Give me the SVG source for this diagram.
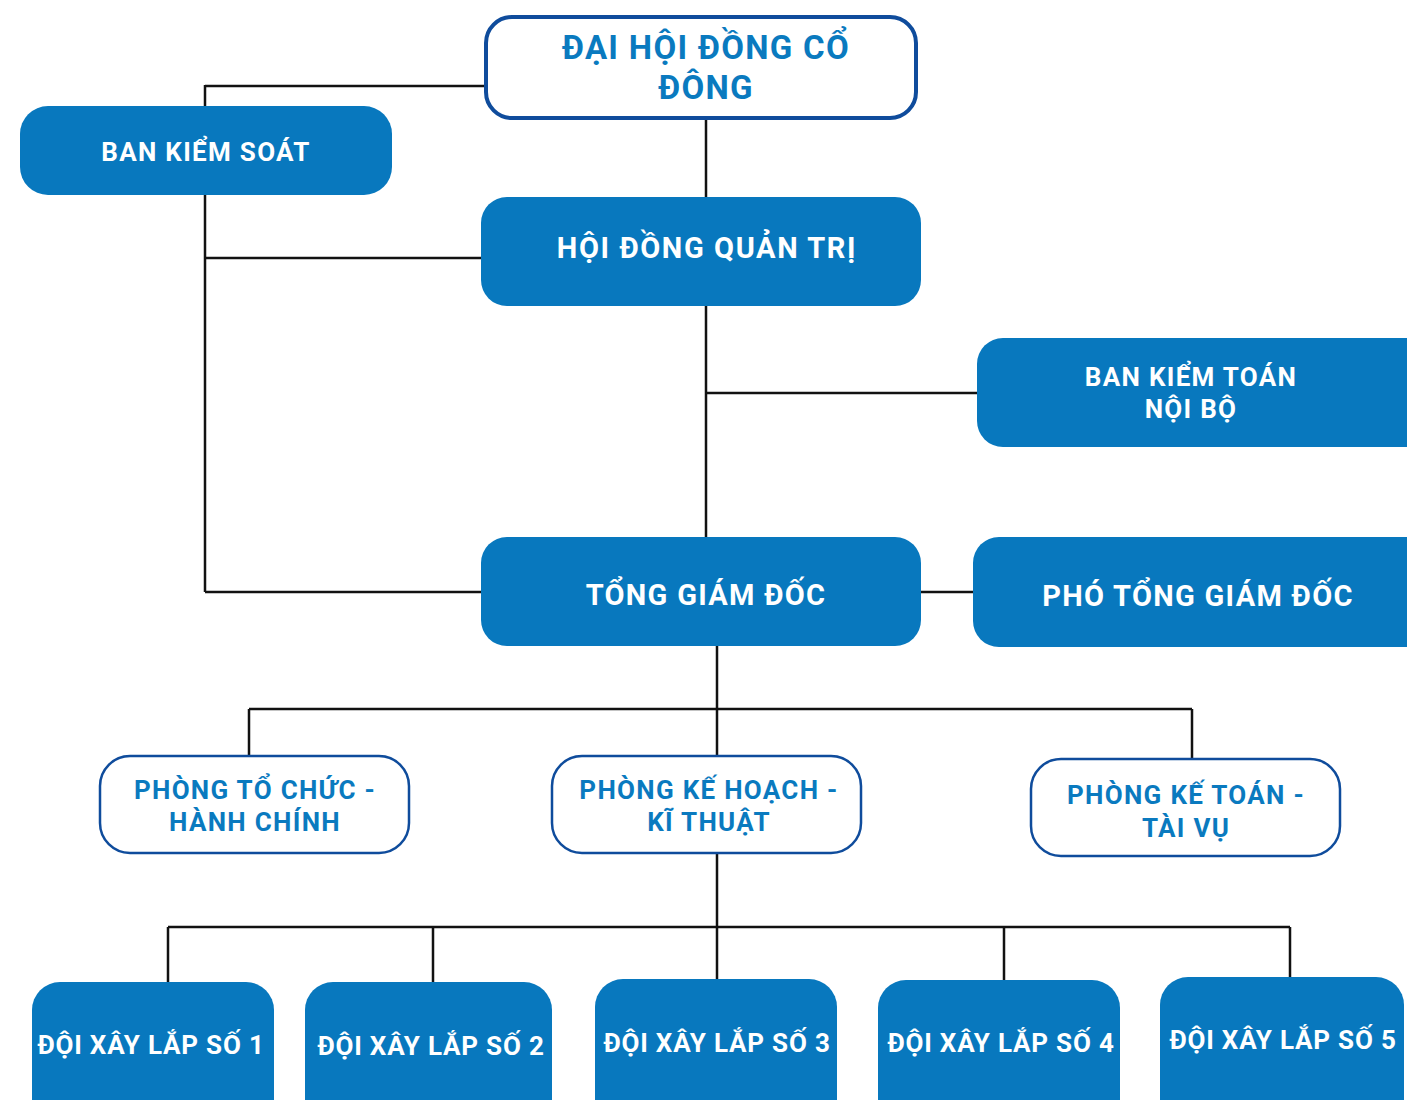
<svg xmlns="http://www.w3.org/2000/svg" width="1407" height="1100" viewBox="0 0 1407 1100">
<style>
.f{fill:#0878be}
.o{fill:#fff;stroke:#0f4c9c}
.tw{font-family:Roboto,"Liberation Sans",sans-serif;font-weight:700;fill:#fff;text-anchor:middle;letter-spacing:1.3px}
.tb{font-family:Roboto,"Liberation Sans",sans-serif;font-weight:700;fill:#0a7abf;text-anchor:middle;letter-spacing:1.3px}
.c{stroke:#111;stroke-width:2.5;fill:none}
</style>
<g id="connectors" class="c">
<path d="M205,86H484M205,85V592M205,258H482M205,592H482"/>
<path d="M706,119V197M706,306V537M706,393H977M921,592H973"/>
<path d="M717,646V980M249,709H1192M249,709V755M1192,709V758"/>
<path d="M168,927H1290M168,927V983M433,927V983M1004,927V980M1290,927V977"/>
</g>
<g id="dhdcd"><rect class="o" x="486" y="17" width="430" height="101" rx="26" stroke-width="4"/><text class="tb" font-size="33" x="706" y="59">ĐẠI HỘI ĐỒNG CỔ</text><text class="tb" font-size="33" x="706" y="99">ĐÔNG</text></g>
<g id="bks"><rect class="f" x="20" y="106" width="372" height="89" rx="28"/><text class="tw" font-size="26" x="206" y="161">BAN KIỂM SOÁT</text></g>
<g id="hdqt"><rect class="f" x="481" y="197" width="440" height="109" rx="26"/><text class="tw" font-size="29" x="707" y="258" style="letter-spacing:1.6px">HỘI ĐỒNG QUẢN TRỊ</text></g>
<g id="bktnb"><rect class="f" x="977" y="338" width="460" height="109" rx="26"/><text class="tw" font-size="26" x="1191" y="386">BAN KIỂM TOÁN</text><text class="tw" font-size="26" x="1191" y="418">NỘI BỘ</text></g>
<g id="tgd"><rect class="f" x="481" y="537" width="440" height="109" rx="26"/><text class="tw" font-size="29" x="706" y="605">TỔNG GIÁM ĐỐC</text></g>
<g id="ptgd"><rect class="f" x="973" y="537" width="460" height="110" rx="26"/><text class="tw" font-size="29" x="1198" y="606">PHÓ TỔNG GIÁM ĐỐC</text></g>
<g id="ptchc"><rect class="o" x="100" y="756" width="309" height="97" rx="30" stroke-width="2.5"/><text class="tb" font-size="26" x="255" y="799">PHÒNG TỔ CHỨC -</text><text class="tb" font-size="26" x="255" y="831">HÀNH CHÍNH</text></g>
<g id="pkhkt"><rect class="o" x="552" y="756" width="309" height="97" rx="30" stroke-width="2.5"/><text class="tb" font-size="26" x="709" y="799">PHÒNG KẾ HOẠCH -</text><text class="tb" font-size="26" x="709" y="831">KĨ THUẬT</text></g>
<g id="pkttv"><rect class="o" x="1031" y="759" width="309" height="97" rx="30" stroke-width="2.5"/><text class="tb" font-size="26" x="1186" y="804">PHÒNG KẾ TOÁN -</text><text class="tb" font-size="26" x="1186" y="837">TÀI VỤ</text></g>
<g id="d1"><rect class="f" x="32" y="982" width="242" height="150" rx="28"/><text class="tw" font-size="26" x="151" y="1054" style="letter-spacing:0.8px">ĐỘI XÂY LẮP SỐ 1</text></g>
<g id="d2"><rect class="f" x="305" y="982" width="247" height="150" rx="28"/><text class="tw" font-size="26" x="431" y="1055" style="letter-spacing:0.8px">ĐỘI XÂY LẮP SỐ 2</text></g>
<g id="d3"><rect class="f" x="595" y="979" width="242" height="150" rx="28"/><text class="tw" font-size="26" x="717" y="1052" style="letter-spacing:0.8px">ĐỘI XÂY LẮP SỐ 3</text></g>
<g id="d4"><rect class="f" x="878" y="980" width="242" height="150" rx="28"/><text class="tw" font-size="26" x="1001" y="1052" style="letter-spacing:0.8px">ĐỘI XÂY LẮP SỐ 4</text></g>
<g id="d5"><rect class="f" x="1160" y="977" width="244" height="150" rx="28"/><text class="tw" font-size="26" x="1283" y="1049" style="letter-spacing:0.8px">ĐỘI XÂY LẮP SỐ 5</text></g>
</svg>
